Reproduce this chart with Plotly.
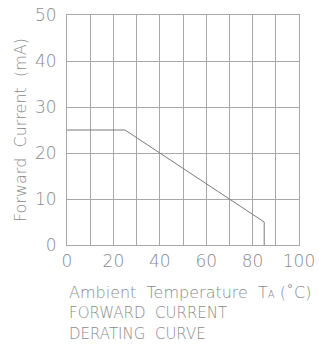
import plotly.graph_objects as go

# Data
temperature = [0, 25, 85, 85]
forward_current = [25, 25, 5, 0]

x_tick_vals = [0, 10, 20, 30, 40, 50, 60, 70, 80, 90, 100]
x_tick_text = ["0", "", "20", "", "40", "", "60", "", "80", "", "100"]
y_tick_vals = [0, 10, 20, 30, 40, 50]
y_tick_text = ["0", "10", "20", "30", "40", "50"]

x_label = "Ambient  Temperature  T<span style='font-size:10px'>A</span> (˚C)"
y_label = "Forward  Current  (mA)"
caption_lines = ["FORWARD  CURRENT", "DERATING  CURVE"]

text_color = "#8a8a8a"
grid_color = "#a8a8a8"
font_family = "DejaVu Sans"

fig = go.Figure()
fig.add_trace(go.Scatter(
    x=temperature, y=forward_current, mode="lines",
    line=dict(color="#7a7a7a", width=1), showlegend=False, hoverinfo="skip"))

fig.update_layout(
    width=319, height=344,
    margin=dict(l=67, r=20, t=15, b=99),
    paper_bgcolor="white", plot_bgcolor="white",
    font=dict(family=font_family, color=text_color, size=16, weight=200),
    xaxis=dict(range=[0, 100], tickvals=x_tick_vals, ticktext=x_tick_text,
               showgrid=True, gridcolor=grid_color, gridwidth=1, automargin=False,
               showline=True, linecolor=grid_color, mirror=True, zeroline=False,
               ticks="", ticklabelstandoff=1,
               tickfont=dict(size=17, color=text_color, weight=200)),
    yaxis=dict(range=[0, 50], tickvals=y_tick_vals, ticktext=y_tick_text,
               showgrid=True, gridcolor=grid_color, gridwidth=1, automargin=False,
               showline=True, linecolor=grid_color, mirror=True, zeroline=False,
               ticks="", ticklabelstandoff=6,
               tickfont=dict(size=17, color=text_color, weight=200),
               title=dict(text=y_label, font=dict(size=16, color=text_color, weight=200), standoff=4)),
)

fig.add_annotation(text=x_label, xref="paper", yref="paper", x=0, y=(245 - 292) / 230,
                   xanchor="left", yanchor="middle", showarrow=False,
                   font=dict(size=16, color=text_color, weight=200))
for i, line in enumerate(caption_lines):
    fig.add_annotation(text=line, xref="paper", yref="paper", x=0,
                       y=(245 - (313 + 21 * i)) / 230,
                       xanchor="left", yanchor="middle", showarrow=False,
                       font=dict(size=15, color=text_color, weight=200))

fig.write_html("out.html", config={"displayModeBar": False},
               post_script="document.body.style.margin='0px';document.body.style.overflow='hidden';")
